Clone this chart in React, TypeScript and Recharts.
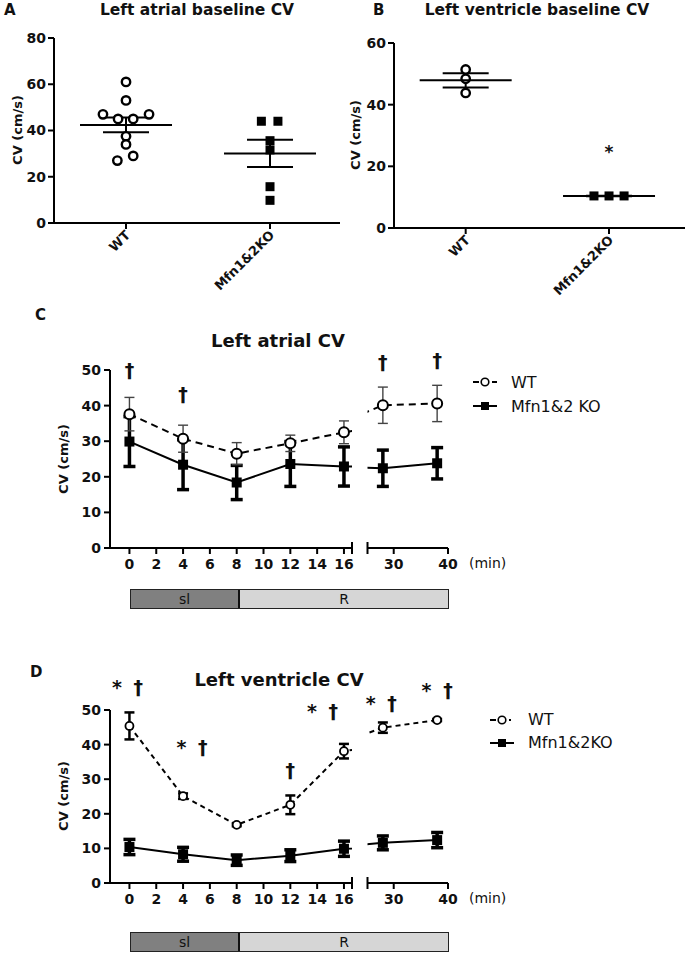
import React from 'react';
import {
  ScatterChart,
  Scatter,
  LineChart,
  Line,
  XAxis,
  YAxis,
  ErrorBar,
  ReferenceDot,
  Legend,
} from 'recharts';

const groups = ['WT', 'Mfn1&2KO'];

// A — left atrial baseline CV (cm/s), one value per animal
const atrialWt = [61, 53, 47, 47, 45, 45, 37.5, 34, 29, 27];
const atrialWtJitter = [0, 0, -0.16, 0.16, -0.055, 0.05, 0, 0, 0.05, -0.06];
const atrialKo = [44, 44, 35.6, 31.6, 15.7, 9.8];
const atrialKoJitter = [-0.06, 0.055, 0, 0, 0, 0];
const atrialMean = [42.4, 30.1];
const atrialSem = [3.2, 5.9];
const atrialTicks = [0, 20, 40, 60, 80];

// B — left ventricle baseline CV
const ventWt = [51.4, 48.4, 43.8];
const ventWtJitter = [0, 0, 0];
const ventKo = [10.4, 10.4, 10.4];
const ventKoJitter = [-0.105, 0, 0.105];
const ventMean = [47.9, 10.4];
const ventSem = [2.3, 0.1];
const ventTicks = [0, 20, 40, 60];

// C / D — time course
const minutes = [0, 4, 8, 12, 16, 28, 38];

const laWt = [37.6, 30.7, 26.5, 29.4, 32.5, 40.1, 40.6];
const laWtErr = [4.7, 3.8, 3.1, 2.3, 3.2, 5.1, 5.1];
const laKo = [29.9, 23.4, 18.4, 23.6, 22.9, 22.4, 23.8];
const laKoErr = [7.0, 7.0, 4.8, 6.3, 5.5, 5.1, 4.4];

const lvWt = [45.4, 25.1, 16.8, 22.6, 38.1, 44.9, 47.1];
const lvWtErr = [3.9, 0.8, 0.4, 2.7, 2.1, 1.5, 0.3];
const lvKo = [10.4, 8.3, 6.6, 7.9, 9.9, 11.6, 12.4];
const lvKoErr = [2.2, 2.0, 1.5, 1.7, 2.2, 2.0, 2.2];

// significance marks (time, level, text)
const laMarkTimes = [0, 4, 28, 38];
const laMarkLevels = [50, 43.3, 52.3, 52.8];
const laMarkTexts = ['†', '†', '†', '†'];

const lvMarkTimes = [-0.15, 4.66, 12, 14.4, 27.7, 38];
const lvMarkLevels = [56.7, 39.4, 32.6, 49.8, 51.9, 55.8];
const lvMarkTexts = ['* †', '* †', '†', '* †', '* †', '* †'];

const FONT = '"DejaVu Sans", Verdana, sans-serif';
const INK = '#111';

const axisLine = { stroke: '#000', strokeWidth: 2 };
const tickText = { fill: INK, fontSize: 14, fontWeight: 700 };

function Txt({ x, y, size, bold, rotate, left, children }: any) {
  return (
    <div
      style={{
        position: 'absolute',
        left: x,
        top: y,
        transform: `translate(${left ? '0' : '-50%'},-50%)${rotate ? ` rotate(${rotate}deg)` : ''}`,
        fontSize: size,
        fontWeight: bold ? 700 : 400,
        whiteSpace: 'nowrap',
        lineHeight: 1,
        color: INK,
      }}
    >
      {children}
    </div>
  );
}

const CatTick = ({ x, y, payload }: any) => {
  const label = groups[Math.round(payload.value) - 1];
  const ax = x + 5;
  const ay = y + 5;
  return (
    <text
      x={ax}
      y={ay}
      textAnchor="end"
      transform={`rotate(-45 ${ax} ${ay})`}
      fontSize={13}
      fontWeight={700}
      fill={INK}
    >
      {label}
    </text>
  );
};

function BaselinePanel({ left, width, xMax, yMax, yTicks, plotTop, plotH, wt, ko, mean, sem, star }: any) {
  const H = 298;
  const meanRows = [
    { x: 1, y: mean[0], sem: sem[0] },
    { x: 2, y: mean[1], sem: sem[1] },
  ];
  return (
    <div style={{ position: 'absolute', left, top: 0 }}>
      <ScatterChart width={width} height={H} margin={{ top: plotTop, right: 0, bottom: 0, left: 0 }}>
        <XAxis
          type="number"
          dataKey="x"
          domain={[0.5, xMax]}
          ticks={[1, 2]}
          allowDataOverflow
          height={H - plotTop - plotH}
          axisLine={axisLine}
          tickLine={axisLine}
          tickSize={6}
          tick={<CatTick />}
        />
        <YAxis
          type="number"
          dataKey="y"
          domain={[0, yMax]}
          ticks={yTicks}
          interval={0}
          width={54}
          axisLine={axisLine}
          tickLine={axisLine}
          tickSize={6}
          tickMargin={2}
          tick={tickText}
        />
        <Scatter
          data={wt}
          isAnimationActive={false}
          shape={(p: any) => (
            <circle cx={p.cx} cy={p.cy} r={4.2} fill="#fff" stroke="#000" strokeWidth={2.4} />
          )}
        />
        <Scatter
          data={ko}
          isAnimationActive={false}
          shape={(p: any) => <rect x={p.cx - 4.5} y={p.cy - 4.5} width={9} height={9} fill="#000" />}
        />
        <Scatter
          data={meanRows}
          isAnimationActive={false}
          shape={(p: any) => (
            <line x1={p.cx - 46} x2={p.cx + 46} y1={p.cy} y2={p.cy} stroke="#000" strokeWidth={2} />
          )}
        >
          <ErrorBar dataKey="sem" direction="y" width={23} stroke="#000" strokeWidth={2} />
        </Scatter>
        {star && (
          <ReferenceDot
            x={2}
            y={star}
            r={0}
            ifOverflow="visible"
            shape={(p: any) => (
              <text x={p.cx} y={p.cy} textAnchor="middle" dominantBaseline="central" fontSize={17} fontWeight={700} fill={INK}>
                *
              </text>
            )}
          />
        )}
      </ScatterChart>
    </div>
  );
}

const openDot = (r: number, sw: number) => (p: any) => (
  <circle key={`o${p.index}`} cx={p.cx} cy={p.cy} r={r} fill="#fff" stroke="#000" strokeWidth={sw} />
);
const squareDot = (s: number) => (p: any) => (
  <rect key={`s${p.index}`} x={p.cx - s / 2} y={p.cy - s / 2} width={s} height={s} fill="#000" />
);

const makeTimeTick = (cap: number) => (p: any) => {
  const { x, y, payload } = p;
  const axisY = y - 11;
  if (payload.value === cap) {
    return <line x1={x} x2={x} y1={axisY - 6} y2={axisY} stroke="#000" strokeWidth={2} />;
  }
  return (
    <text x={x} y={y} dy="0.71em" textAnchor="middle" {...tickText}>
      {payload.value}
    </text>
  );
};

function MarkText({ cx, cy, text }: any) {
  return (
    <text
      x={cx}
      y={cy}
      textAnchor="middle"
      dominantBaseline="central"
      fontSize={19}
      fontWeight={700}
      fill={INK}
      style={{ wordSpacing: 5 }}
    >
      {text}
    </text>
  );
}

function LegendBox({ payload, compact }: any) {
  return (
    <div>
      {(payload || []).map((e: any) => (
        <div key={e.dataKey} style={{ display: 'flex', alignItems: 'center', height: compact ? 23 : 24, fontSize: 16, color: INK }}>
          <svg width={24} height={14}>
            {e.dataKey === 'wt' ? (
              <g>
                <line x1={0} x2={6} y1={7} y2={7} stroke="#000" strokeWidth={2} />
                <circle cx={12} cy={7} r={3.8} fill="#fff" stroke="#000" strokeWidth={1.6} />
                <line x1={19} x2={compact ? 21 : 24} y1={7} y2={7} stroke="#000" strokeWidth={2} />
              </g>
            ) : (
              <g>
                <line x1={0} x2={24} y1={7} y2={7} stroke="#000" strokeWidth={2} />
                <rect x={8} y={3} width={8} height={8} fill="#000" />
              </g>
            )}
          </svg>
          <span style={{ marginLeft: 14 }}>{e.value}</span>
        </div>
      ))}
    </div>
  );
}

function TimePanel({ top, plotH, wt, wtErr, ko, koErr, marks, koName, wtStyle, koStyle, legendTop, legendLeft, compact }: any) {
  const plotTop = 50;
  const H = plotTop + plotH + 30 + 12;
  const rows = minutes.map((t, i) => ({ t, wt: wt[i], wtErr: wtErr[i], ko: ko[i], koErr: koErr[i] }));
  const segA = [-1.45, 16.6];
  const segB = [25.17, 40];
  const inSeg = (seg: number[]) => marks.filter((m: any) => m.t >= seg[0] && m.t <= seg[1]);

  const series = (
    <>
      <Line
        dataKey="ko"
        name={koName}
        stroke="#000"
        strokeWidth={2}
        dot={squareDot(koStyle.size)}
        activeDot={false}
        isAnimationActive={false}
      >
        <ErrorBar dataKey="koErr" direction="y" width={koStyle.cap} stroke="#000" strokeWidth={koStyle.err} />
      </Line>
      <Line
        dataKey="wt"
        name="WT"
        stroke="#000"
        strokeWidth={2}
        strokeDasharray={wtStyle.dash}
        dot={openDot(wtStyle.r, wtStyle.sw)}
        activeDot={false}
        isAnimationActive={false}
      >
        <ErrorBar dataKey="wtErr" direction="y" width={5} stroke={wtStyle.errColor} strokeWidth={wtStyle.err} />
      </Line>
    </>
  );

  const yAxisCommon = {
    type: 'number' as const,
    domain: [0, 50],
    ticks: [0, 10, 20, 30, 40, 50],
    allowDataOverflow: true,
  };

  return (
    <>
      <div style={{ position: 'absolute', left: 0, top }}>
        <LineChart width={358} height={H} data={rows} margin={{ top: plotTop, right: 6, bottom: 12, left: 0 }}>
          <XAxis
            type="number"
            dataKey="t"
            domain={segA}
            allowDataOverflow
            ticks={[0, 2, 4, 6, 8, 10, 12, 14, 16, segA[1]]}
            interval={0}
            height={30}
            axisLine={axisLine}
            tickLine={axisLine}
            tickSize={6}
            tickMargin={5}
            tick={makeTimeTick(segA[1])}
          />
          <YAxis
            {...yAxisCommon}
            interval={0}
            width={110}
            axisLine={axisLine}
            tickLine={axisLine}
            tickSize={6}
            tickMargin={3}
            tick={tickText}
          />
          {series}
          {inSeg(segA).map((m: any, i: number) => (
            <ReferenceDot key={i} x={m.t} y={m.y} r={0} ifOverflow="visible" shape={(p: any) => <MarkText cx={p.cx} cy={p.cy} text={m.text} />} />
          ))}
        </LineChart>
      </div>
      <div style={{ position: 'absolute', left: 360, top }}>
        <LineChart width={325} height={H} data={rows} margin={{ top: plotTop, right: 237, bottom: 12, left: 7.5 }}>
          <XAxis
            type="number"
            dataKey="t"
            domain={segB}
            allowDataOverflow
            ticks={[segB[0], 30, 40]}
            interval={0}
            height={30}
            axisLine={axisLine}
            tickLine={axisLine}
            tickSize={6}
            tickMargin={5}
            tick={makeTimeTick(segB[0])}
          />
          <YAxis {...yAxisCommon} hide width={0} />
          {series}
          {inSeg(segB).map((m: any, i: number) => (
            <ReferenceDot key={i} x={m.t} y={m.y} r={0} ifOverflow="visible" shape={(p: any) => <MarkText cx={p.cx} cy={p.cy} text={m.text} />} />
          ))}
          <Legend
            layout="vertical"
            align="center"
            verticalAlign="middle"
            wrapperStyle={{ left: legendLeft, top: legendTop, width: 180, height: 50 }}
            content={(p: any) => <LegendBox payload={[...(p.payload || [])].reverse()} compact={compact} />}
          />
        </LineChart>
      </div>
    </>
  );
}

function Timeline({ top }: any) {
  return (
    <div
      style={{
        position: 'absolute',
        left: 130,
        top,
        width: 319,
        height: 20,
        display: 'flex',
        border: '1.5px solid #222',
        boxSizing: 'border-box',
        fontSize: 14,
        color: INK,
      }}
    >
      <div style={{ width: 107, background: '#808080', borderRight: '2px solid #111', display: 'flex', alignItems: 'center', justifyContent: 'center' }}>
        sl
      </div>
      <div style={{ flex: 1, background: '#d6d6d6', display: 'flex', alignItems: 'center', justifyContent: 'center' }}>R</div>
    </div>
  );
}

export default function App() {
  const pts = (vals: number[], jit: number[], g: number) => vals.map((y, i) => ({ x: g + jit[i], y }));
  const laMarks = laMarkTimes.map((t, i) => ({ t, y: laMarkLevels[i], text: laMarkTexts[i] }));
  const lvMarks = lvMarkTimes.map((t, i) => ({ t, y: lvMarkLevels[i], text: lvMarkTexts[i] }));

  return (
    <div style={{ position: 'absolute', left: 0, top: 0, width: 685, height: 954, background: '#fff', fontFamily: FONT, overflow: 'hidden' }}>
      <Txt x={4} y={10} size={15} bold left>A</Txt>
      <Txt x={197} y={11} size={15.5} bold>Left atrial baseline CV</Txt>
      <Txt x={373} y={10} size={15} bold left>B</Txt>
      <Txt x={537} y={11} size={15.5} bold>Left ventricle baseline CV</Txt>
      <Txt x={17} y={130} size={13} bold rotate={-90}>CV (cm/s)</Txt>
      <Txt x={355} y={135} size={13} bold rotate={-90}>CV (cm/s)</Txt>

      <BaselinePanel
        left={0}
        width={340}
        xMax={2.486}
        yMax={80}
        yTicks={atrialTicks}
        plotTop={38}
        plotH={185}
        wt={pts(atrialWt, atrialWtJitter, 1)}
        ko={pts(atrialKo, atrialKoJitter, 2)}
        mean={atrialMean}
        sem={atrialSem}
      />
      <BaselinePanel
        left={340}
        width={345}
        xMax={2.53}
        yMax={60}
        yTicks={ventTicks}
        plotTop={43}
        plotH={185}
        wt={pts(ventWt, ventWtJitter, 1)}
        ko={pts(ventKo, ventKoJitter, 2)}
        mean={ventMean}
        sem={ventSem}
        star={24.8}
      />

      <Txt x={35} y={315} size={15} bold left>C</Txt>
      <Txt x={278} y={341} size={18} bold>Left atrial CV</Txt>
      <Txt x={63} y={459} size={13} bold rotate={-90}>CV (cm/s)</Txt>
      <TimePanel
        top={320}
        plotH={178}
        wt={laWt}
        wtErr={laWtErr}
        ko={laKo}
        koErr={laKoErr}
        marks={laMarks}
        koName="Mfn1&2 KO"
        wtStyle={{ r: 5, sw: 2, dash: '7 5', err: 1.4, errColor: '#444' }}
        koStyle={{ size: 10, cap: 6, err: 3.5 }}
        legendLeft={113}
        legendTop={50}
      />
      <Txt x={469} y={563} size={14} left>(min)</Txt>
      <Timeline top={589} />

      <Txt x={30} y={672} size={15} bold left>D</Txt>
      <Txt x={279} y={680} size={18} bold>Left ventricle CV</Txt>
      <Txt x={63} y={796} size={13} bold rotate={-90}>CV (cm/s)</Txt>
      <TimePanel
        top={660}
        plotH={173}
        wt={lvWt}
        wtErr={lvWtErr}
        ko={lvKo}
        koErr={lvKoErr}
        marks={lvMarks}
        koName="Mfn1&2KO"
        wtStyle={{ r: 4, sw: 1.8, dash: '5 4', err: 2.5, errColor: '#000' }}
        koStyle={{ size: 10, cap: 6, err: 3.5 }}
        legendLeft={130}
        legendTop={48}
        compact
      />
      <Txt x={469} y={898} size={14} left>(min)</Txt>
      <Timeline top={932} />
    </div>
  );
}
